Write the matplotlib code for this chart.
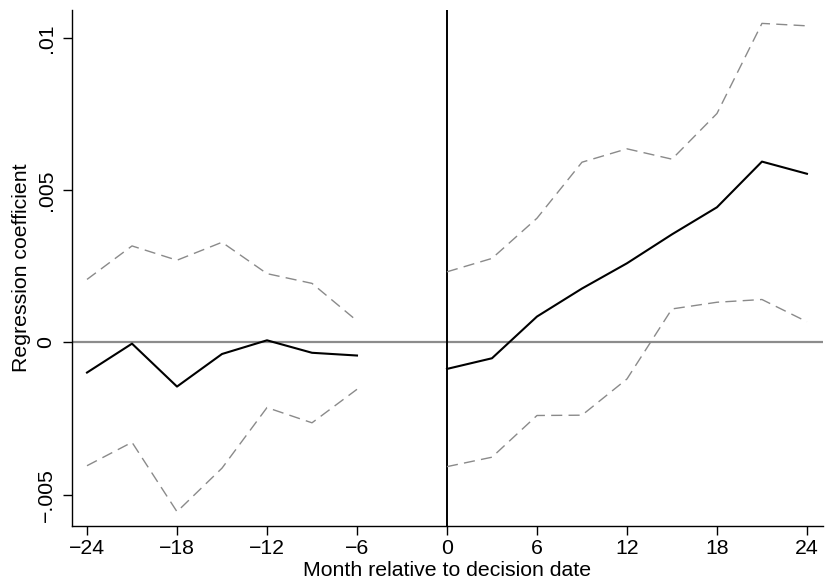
import numpy as np
import matplotlib
matplotlib.use("Agg")
import matplotlib.pyplot as plt

plt.rcParams['font.family'] = ['Liberation Sans', 'DejaVu Sans']

# months relative to decision date (pre and post)
months_pre = [-24, -21, -18, -15, -12, -9, -6]
months_post = [0, 3, 6, 9, 12, 15, 18, 21, 24]

# point estimates
coef_pre = [-0.00099, -0.00004, -0.00145, -0.00038, 0.00007, -0.00034, -0.00043]
coef_post = [-0.00087, -0.00052, 0.00085, 0.00177, 0.00260, 0.00355, 0.00444, 0.00594, 0.00554]

# confidence bands
upper_pre = [0.00207, 0.00317, 0.00270, 0.00329, 0.00226, 0.00194, 0.00071]
lower_pre = [-0.00405, -0.00328, -0.00556, -0.00413, -0.00214, -0.00264, -0.00154]
upper_post = [0.00232, 0.00276, 0.00408, 0.00592, 0.00636, 0.00602, 0.00752, 0.01048, 0.01040]
lower_post = [-0.00408, -0.00377, -0.00240, -0.00239, -0.00120, 0.00110, 0.00132, 0.00141, 0.00068]

x_ticks = [-24, -18, -12, -6, 0, 6, 12, 18, 24]
y_ticks = [-0.005, 0, 0.005, 0.01]
y_ticklabels = ['-.005', '0', '.005', '.01']

fig = plt.figure(figsize=(8.25, 5.86), dpi=100)
ax = fig.add_axes([72/825, 1 - 526/586, (823-72)/825, (526-10)/586])

ax.axhline(0, color='#8c8c8c', lw=1.6, zorder=1)
ax.axvline(0, color='black', lw=1.4, zorder=1)

dash = dict(color='#8a8a8a', lw=1.0, dashes=(8, 4.5))
for xs, lo, hi, c in [(months_pre, lower_pre, upper_pre, coef_pre),
                      (months_post, lower_post, upper_post, coef_post)]:
    ax.plot(xs, hi, **dash)
    ax.plot(xs, lo, **dash)
    ax.plot(xs, c, color='black', lw=1.5)

ax.set_xlim(-25, 25.07)
ax.set_ylim(-0.00603, 0.01092)

fs = 15.3
ax.set_xticks(x_ticks)
ax.set_xticklabels([str(t).replace('-', '\u2212') for t in x_ticks], fontsize=fs)
ax.set_yticks(y_ticks)
ax.set_yticklabels([l.replace('-', '\u2212') for l in y_ticklabels], fontsize=fs,
                   rotation=90, va='center')

ax.tick_params(direction='out', length=6.3, width=1.0, color='black', pad=3)
ax.tick_params(axis='y', pad=5.5)
for s in ['top', 'right']:
    ax.spines[s].set_visible(False)
for s in ['left', 'bottom']:
    ax.spines[s].set_linewidth(1.0)

ax.set_xlabel('Month relative to decision date', fontsize=fs, labelpad=2.5)
ax.set_ylabel('Regression coefficient', fontsize=fs, labelpad=4)

fig.savefig('out.png', dpi=100)
